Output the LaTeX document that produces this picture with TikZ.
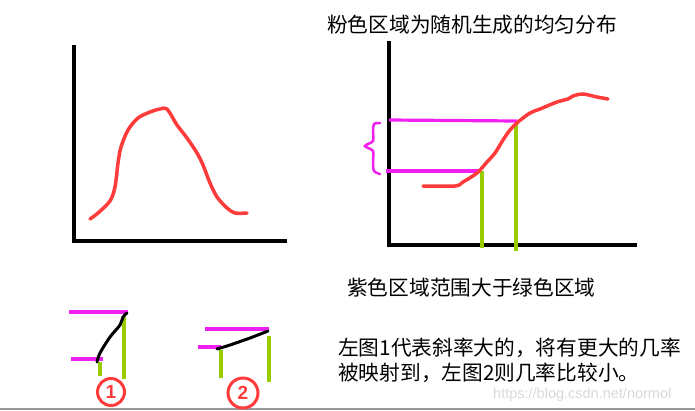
\documentclass[tikz,border=0pt]{standalone}
\usepackage{fontspec}
\newfontfamily\cjk{Noto Sans CJK SC}
\setsansfont{Liberation Sans}
\usepackage{tikz}
\usetikzlibrary{positioning}
\definecolor{redpen}{HTML}{FF3B3B}
\definecolor{pinkpen}{HTML}{F020F0}
\definecolor{greenpen}{HTML}{99CC00}
\definecolor{mark}{HTML}{D8D8D8}
\begin{document}
\begin{tikzpicture}[x=1pt, y=-1pt,
  axis/.style={line width=3.5pt, draw=black},
  curve/.style={line width=3.5pt, draw=redpen, line cap=round, line join=round},
  pinkline/.style={line width=3.2pt, draw=pinkpen},
  greenline/.style={line width=3.2pt, draw=greenpen},
  ink/.style={line width=3pt, draw=black, line cap=round, line join=round},
  numcirc/.style={circle, draw=redpen, line width=3pt, text=redpen, inner sep=0pt,
    minimum size=27pt, font=\sffamily\bfseries\fontsize{19}{19}\selectfont},
  lab/.style={font=\cjk\fontsize{20.7}{25}\selectfont, anchor=west, inner sep=0pt}]
  \useasboundingbox (0,0) rectangle (695,410);
  \draw[gray!80, line width=1.5pt] (0,409) -- (695,409);
  % left: density
  \draw[axis] (74,45) -- (74,241) -- (287,241);
  \draw[curve] plot[smooth] coordinates {(90,219) (98,213) (110,201) (115,187) (118,163)
    (121,147) (128,130) (138,118) (150,112) (160,109) (167,109) (177,125) (187,138)
    (197,153) (203,165) (210,183) (217,197) (227,208) (235,213) (247,213)};
  % right: cdf with pink and green ranges
  \draw[axis] (389,41) -- (389,245) -- (637,245);
  \coordinate (lo) at (482,171);
  \coordinate (hi) at (517,121);
  \draw[pinkline] (389,120) -- (hi);
  \draw[pinkline] (386,171) -- (lo);
  \draw[greenline] (lo) -- (482,248);
  \draw[greenline] (516,124) -- (516,251);
  \draw[curve] plot[smooth] coordinates {(423,186) (455,186) (463,182) (477,173) (487,162)
    (495,153) (503,140) (510,130) (518,122) (530,113) (540,109) (557,102) (568,99)
    (573,96) (583,94) (597,97) (608,99)};
  \draw[pinkpen, line width=2.5pt, line cap=round] plot[smooth] coordinates {(380,123)
    (374,124) (373,131) (373,141) (365,146) (373,151) (373,162) (374,171) (380,174)};
  \node[lab] (title) at (327,25) {粉色区域为随机生成的均匀分布};
  \node[lab] (cmp) at (347,288) {紫色区域范围大于绿色区域};
  % small cases 1 and 2
  \draw[pinkline] (69,312) -- (128,312);
  \draw[pinkline] (71,359) -- (103,359);
  \draw[greenline] (100,362) -- (100,376);
  \draw[greenline] (124,317) -- (124,379);
  \draw[ink] plot[smooth] coordinates {(97,362) (100,353) (110,337) (120,325) (123,317) (127,313)};
  \node[numcirc] (one) at (111,392) {1};
  \draw[pinkline] (205,329) -- (269,329);
  \draw[pinkline] (198,347) -- (221,347);
  \draw[greenline] (221,350) -- (221,378);
  \draw[greenline] (269,336) -- (269,382);
  \draw[ink] plot[smooth] coordinates {(217,349) (230,345) (250,338) (268,331)};
  \node[numcirc, minimum size=30pt] (two) at (243,393) {2};
  \node[lab] (expl1) at (338,348) {左图1代表斜率大的，将有更大的几率};
  \node[lab] (expl2) at (338,373) {被映射到，左图2则几率比较小。};
  \node[font=\sffamily\fontsize{14.5}{14.5}\selectfont, text=mark, anchor=west, inner sep=0pt]
    (wm) at (493,395) {https://blog.csdn.net/normol};
\end{tikzpicture}
\end{document}
